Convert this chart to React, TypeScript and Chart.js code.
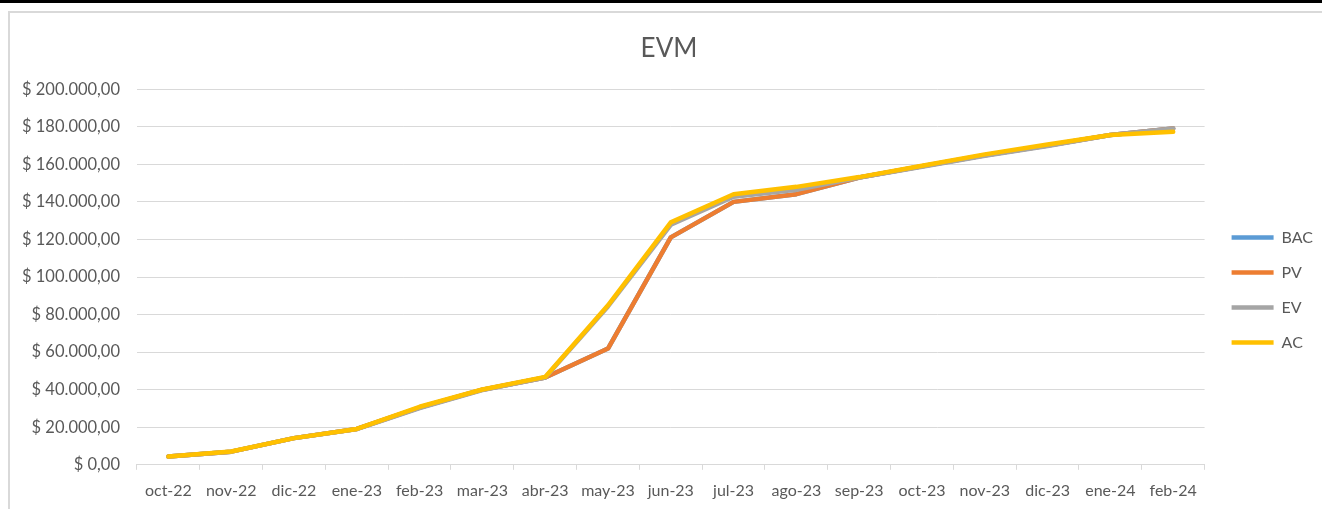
import React, { useEffect, useRef } from "react";
import { Chart, registerables } from "chart.js";

Chart.register(...registerables);

const categories = [
  "oct-22", "nov-22", "dic-22", "ene-23", "feb-23", "mar-23", "abr-23", "may-23", "jun-23",
  "jul-23", "ago-23", "sep-23", "oct-23", "nov-23", "dic-23", "ene-24", "feb-24",
];

const bacValues = [4400, 7000, 14200, 19100, 30500, 40000, 46500, 61900, 121100, 140000, 144100, 153000, 159000, 164800, 170000, 175600, 179100];
const pvValues = [4400, 7000, 14200, 19100, 30500, 40000, 46500, 61900, 121100, 140000, 144100, 153000, 159000, 164800, 170000, 175600, 179100];
const evValues = [4400, 7000, 14200, 19000, 30200, 39800, 46500, 84300, 127800, 142700, 146400, 153000, 158700, 164500, 169800, 175600, 179100];
const acValues = [4400, 7050, 14200, 19100, 30900, 40100, 46800, 84900, 129100, 144100, 148000, 153200, 159200, 165300, 170600, 175600, 177300];

const seriesNames = ["BAC", "PV", "EV", "AC"];
const seriesColors = ["#5B9BD5", "#ED7D31", "#A5A5A5", "#FFC000"];
const titleText = "EVM";

function formatMoney(v: number): string {
  const fixed = Math.abs(v).toFixed(2);
  const [intPart, dec] = fixed.split(".");
  const grouped = intPart.replace(/\B(?=(\d{3})+(?!\d))/g, ".");
  return "$ " + grouped + "," + dec;
}

const boxShift = {
  id: "boxShift",
  afterLayout(chart: any) {
    const lg = chart.legend;
    if (lg) {
      const dx = 8;
      const dy = 28;
      lg.left += dx;
      lg.right += dx;
      lg.top += dy;
      lg.bottom += dy;
      if (lg.legendHitBoxes) {
        lg.legendHitBoxes.forEach((h: any) => {
          h.left += dx;
          h.top += dy;
        });
      }
    }
    const tb = chart.titleBlock;
    if (tb) {
      tb.left += 9;
      tb.right += 9;
    }
  },
};

export default function App() {
  const canvasRef = useRef<HTMLCanvasElement | null>(null);

  useEffect(() => {
    if (!canvasRef.current) return;
    const allValues = [bacValues, pvValues, evValues, acValues];
    const chart = new Chart(canvasRef.current, {
      type: "line",
      data: {
        labels: categories,
        datasets: seriesNames.map((name, i) => ({
          label: name,
          data: allValues[i],
          borderColor: seriesColors[i],
          backgroundColor: seriesColors[i],
          borderWidth: 4.5,
          pointRadius: 0,
          pointHoverRadius: 0,
          tension: 0,
          order: seriesNames.length - 1 - i,
          borderCapStyle: "round" as const,
          borderJoinStyle: "round" as const,
          pointStyle: "line" as const,
        })),
      },
      plugins: [boxShift],
      options: {
        animation: false,
        responsive: false,
        maintainAspectRatio: false,
        layout: { padding: { left: 0, right: 7, top: 0, bottom: 4 } },
        plugins: {
          title: {
            display: true,
            text: titleText,
            color: "#595959",
            font: { family: "Lato", size: 26, weight: "normal" },
            padding: { top: 20, bottom: 25 },
          },
          legend: {
            display: true,
            position: "right",
            labels: {
              usePointStyle: true,
              pointStyleWidth: 42,
              color: "#595959",
              font: { family: "Lato", size: 16 },
              padding: 19,
              sort: (a: any, b: any) => a.datasetIndex - b.datasetIndex,
            },
          },
          tooltip: { enabled: false },
        },
        scales: {
          x: {
            offset: true,
            grid: {
              offset: true,
              drawOnChartArea: false,
              drawTicks: true,
              tickLength: 5,
              color: "#d9d9d9",
            },
            border: { display: true, color: "#d9d9d9", width: 1 },
            ticks: {
              color: "#595959",
              font: { family: "Lato", size: 16 },
              padding: 11,
              maxRotation: 0,
              autoSkip: false,
            },
          },
          y: {
            min: 0,
            max: 200000,
            grid: { color: "#d9d9d9", drawTicks: false, lineWidth: 1 },
            border: { display: false },
            ticks: {
              stepSize: 20000,
              color: "#595959",
              font: { family: "Lato", size: 16.5 },
              padding: 17,
              callback: (v: any) => formatMoney(Number(v)),
            },
          },
        },
      },
    });
    return () => chart.destroy();
  }, []);

  return (
    <div style={{ position: "fixed", left: 0, top: 0, width: 1322, height: 509, background: "#fff", overflow: "hidden" }}>
      <div style={{ position: "absolute", left: 0, top: 0, width: 1322, height: 3, background: "#000" }} />
      <div
        style={{
          position: "absolute",
          left: 8,
          top: 11,
          width: 1314,
          height: 498,
          borderLeft: "2px solid #d9d9d9",
          borderTop: "2px solid #d9d9d9",
          boxSizing: "border-box",
          overflow: "hidden",
        }}
      >
        <canvas ref={canvasRef} width={1317} height={502} style={{ display: "block", marginLeft: -5 }} />
      </div>
    </div>
  );
}
